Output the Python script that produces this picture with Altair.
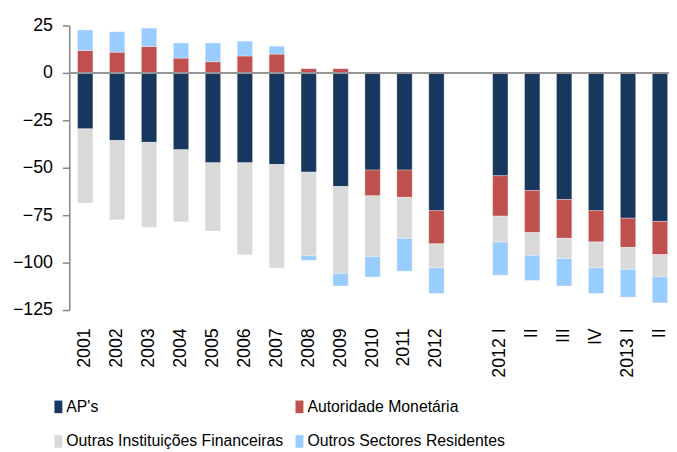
import altair as alt
import pandas as pd

period_labels = ["2001", "2002", "2003", "2004", "2005", "2006", "2007", "2008", "2009",
                 "2010", "2011", "2012", "", "2012 I", "II", "III", "IV", "2013 I", "II"]
series_names = ["AP's", "Autoridade Monetária", "Outras Instituições Financeiras",
                "Outros Sectores Residentes"]
series_colors = ["#17375E", "#C0504D", "#D9D9D9", "#99CCFF"]

aps = [-29.5, -35.6, -36.6, -40.5, -47.4, -47.4, -48.3, -52.3, -59.9, -51.2, -51.2, -72.6,
       -54.2, -62.0, -66.8, -72.6, -76.6, -78.3]
aut_mon = [11.8, 10.9, 13.9, 7.8, 5.9, 8.9, 9.9, 2.2, 2.2, -13.6, -14.4, -17.5,
           -21.3, -22.2, -20.4, -16.5, -15.4, -17.5]
outras_inst = [-39.1, -41.8, -44.8, -38.0, -35.9, -48.4, -54.5, -44.1, -45.8, -32.1, -21.7, -12.7,
               -13.7, -12.0, -10.7, -13.7, -11.6, -11.8]
outros_sect = [10.8, 10.8, 9.7, 8.0, 9.9, 7.8, 4.2, -2.4, -6.6, -10.7, -17.2, -13.5,
               -17.4, -13.2, -14.4, -13.5, -14.6, -13.6]

y_ticks = [-125, -100, -75, -50, -25, 0, 25]

positions = [i for i, lab in enumerate(period_labels) if lab != ""]
rows = []
for si, (name, vals) in enumerate(zip(series_names, [aps, aut_mon, outras_inst, outros_sect])):
    for k, p in enumerate(positions):
        rows.append({"pos": p, "series": name, "value": vals[k], "ord": si})
df = pd.DataFrame(rows)

label_array = "[" + ",".join('"' + l + '"' for l in period_labels) + "]"

FONT = "Liberation Sans"
PLOT_W = 605
RANGE_W = 614

bars = alt.Chart(df).mark_bar(width=15.5, stroke="white", strokeWidth=0.6, strokeOpacity=0.5).encode(
    x=alt.X("pos:O",
            scale=alt.Scale(domain=list(range(len(period_labels))), range=[0, RANGE_W]),
            axis=alt.Axis(title=None, labelExpr=label_array + "[datum.value]", labelAngle=270,
                          domain=False, ticks=False, labelPadding=18, labelFontSize=18,
                          labelFont=FONT, labelColor="black")),
    y=alt.Y("value:Q", stack="zero",
            scale=alt.Scale(domain=[-125, 25], nice=False, zero=False),
            axis=alt.Axis(title=None, values=y_ticks, grid=False, domainColor="#868686",
                          domainWidth=1.5, tickColor="#868686", tickSize=7, tickWidth=1.5,
                          labelFontSize=18, labelFont=FONT, labelColor="black", labelPadding=10)),
    color=alt.Color("series:N",
                    scale=alt.Scale(domain=series_names, range=series_colors),
                    legend=alt.Legend(title=None, orient="none", legendX=-19, legendY=378,
                                      direction="horizontal", columns=2,
                                      symbolType="M-0.5,-0.8H0.5V0.8H-0.5Z",
                                      symbolSize=256, symbolStrokeWidth=0, symbolOpacity=1,
                                      labelFontSize=16, labelFont=FONT, labelColor="black",
                                      labelLimit=0, columnPadding=8, rowPadding=19,
                                      labelOffset=0)),
    order=alt.Order("ord:Q", sort="ascending"),
)

zero_rule = alt.Chart(df).mark_rule(color="#969696", strokeWidth=2).encode(
    y=alt.datum(0),
    x=alt.value(0),
    x2=alt.value(RANGE_W),
)

chart = alt.layer(bars, zero_rule).properties(
    width=PLOT_W, height=288,
    autosize=alt.AutoSizeParams(type="none"),
    padding={"left": 62, "top": 15, "right": 2, "bottom": 141},
).configure_view(stroke=None)

chart.save("out.html", embed_options={"renderer": "svg", "actions": False})
